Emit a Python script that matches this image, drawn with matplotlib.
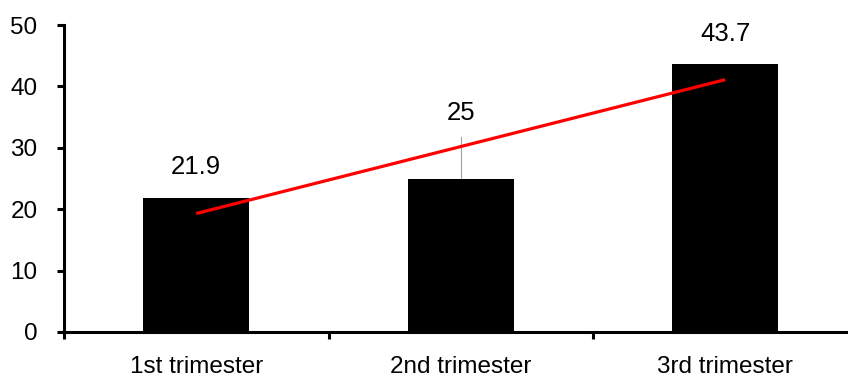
import matplotlib
matplotlib.use("Agg")
from matplotlib import pyplot as plt
from matplotlib.ticker import FixedLocator

#data
categories = ["1st trimester", "2nd trimester", "3rd trimester"]
values = [21.9, 25, 43.7]
labels = ["21.9", "25", "43.7"]
label_y = [26.9, 35.6, 48.5]
# linear trendline at first and last category
trend_x = [1, 3]
trend_y = [19.3, 41.1]
# leader line for the "25" label
leader_top = 31.8

plt.rcParams['font.family'] = ['Liberation Sans', 'DejaVu Sans']

fig = plt.figure(figsize=(8.48, 3.8), dpi=100)
ax = fig.add_axes([64 / 848, 1 - 332 / 380, (848 - 64) / 848, (332 - 25) / 380])

x = list(range(1, len(categories) + 1))
ax.bar(x, values, width=0.4, color="black", zorder=2)
ax.plot(trend_x, trend_y, color="#ff0000", lw=2.3, zorder=3, solid_capstyle="butt")

# label for bar 2 sits higher, with a thin leader line
ax.plot([2, 2], [values[1], leader_top], color="#a0a0a0", lw=0.8, zorder=1)
for xi, lab, ly in zip(x, labels, label_y):
    ax.text(xi, ly, lab, ha="center", va="center", fontsize=18.5)

ax.set_xlim(0.5, 0.5 + (848 - 64) / 264.5)
ax.set_ylim(0, 50)
ax.set_yticks([0, 10, 20, 30, 40, 50])

ax.set_xticks(x)
ax.set_xticklabels(categories, fontsize=17.5)
ax.xaxis.set_minor_locator(FixedLocator([0.5, 1.5, 2.5, 3.5]))
ax.tick_params(axis="x", which="major", length=0, pad=17)
ax.tick_params(axis="x", which="minor", length=5, width=2.2, direction="out")
ax.tick_params(axis="y", length=5, width=2.2, direction="out", pad=14, labelsize=17.5)

for side in ["top", "right"]:
    ax.spines[side].set_visible(False)
for side in ["left", "bottom"]:
    ax.spines[side].set_linewidth(2.2)

fig.savefig("out.png", dpi=100)
